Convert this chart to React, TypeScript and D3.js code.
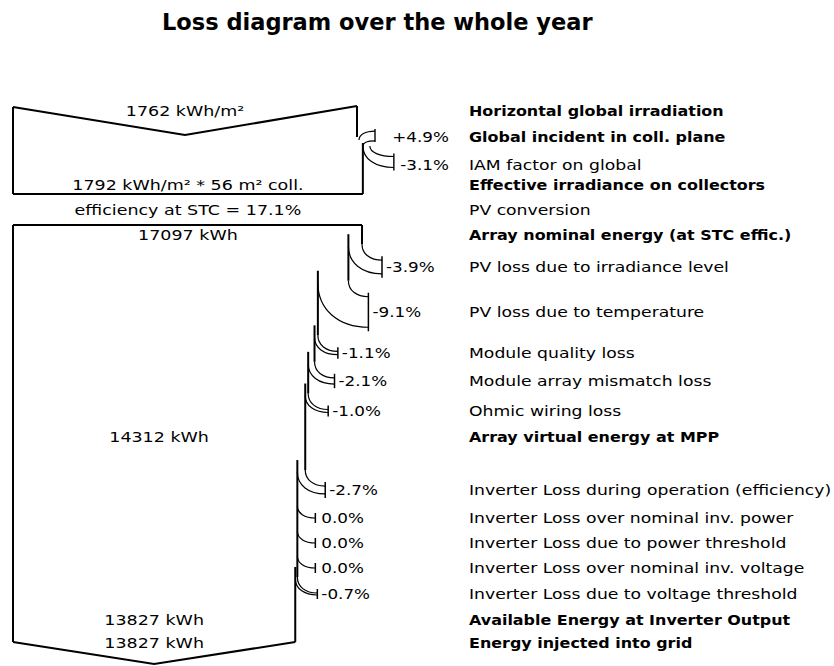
import React from "react";
import * as d3 from "d3";

// ---------- data ----------
const chartTitle = "Loss diagram over the whole year";

const ghi = 1762; // kWh/m²
const gainPct = 4.9; // global incident in coll. plane
const iamPct = -3.1; // IAM factor on global
const effIrr = 1792; // kWh/m²
const collArea = 56; // m²
const stcEff = 17.1; // %
const nominalEnergy = 17097; // kWh
const virtualEnergy = 14312; // kWh
const outputEnergy = 13827; // kWh
const gridEnergy = 13827; // kWh

const irrLabels = [
  "Horizontal global irradiation",
  "Global incident in coll. plane",
  "IAM factor on global",
  "Effective irradiance on collectors",
  "PV conversion",
  "Array nominal energy (at STC effic.)",
];
const irrBold = [true, true, false, true, false, true];

const lossLabels = [
  "PV loss due to irradiance level",
  "PV loss due to temperature",
  "Module quality loss",
  "Module array mismatch loss",
  "Ohmic wiring loss",
  "Inverter Loss during operation (efficiency)",
  "Inverter Loss over nominal inv. power",
  "Inverter Loss due to power threshold",
  "Inverter Loss over nominal inv. voltage",
  "Inverter Loss due to voltage threshold",
];
const lossPct = [-3.9, -9.1, -1.1, -2.1, -1.0, -2.7, 0.0, 0.0, 0.0, -0.7];

const resultLabels = [
  "Array virtual energy at MPP",
  "Available Energy at Inverter Output",
  "Energy injected into grid",
];

// ---------- layout ----------
const irrRowY = [111, 137, 165, 185, 210, 235];
const lossRowY = [267, 312, 353, 381, 411, 490, 518, 543, 568, 594];
const resultRowY = [437, 620, 643];
const labelX = 469;
const LEFT = 13;
const FONT = "'DejaVu Sans', Verdana, sans-serif";
const FS = 14;

const fmtPct = (p: number) => (p > 0 ? "+" : p < 0 ? "-" : "") + Math.abs(p).toFixed(1) + "%";

function curve(x1: number, y1: number, x2: number, y2: number) {
  const p = d3.path();
  p.moveTo(x1, y1);
  p.bezierCurveTo(x1, y1 + 0.6 * (y2 - y1), x1 + 0.4 * (x2 - x1), y2, x2, y2);
  return p.toString();
}

function Txt(props: {
  x: number; y: number; sx: number; children: React.ReactNode;
  anchor?: "start" | "middle" | "end"; bold?: boolean; size?: number;
}) {
  const { x, y, sx, children, anchor = "start", bold = false, size = FS } = props;
  return (
    <text
      transform={`translate(${x},${y}) scale(${sx},1)`}
      textAnchor={anchor}
      dominantBaseline="central"
      fontSize={size}
      fontWeight={bold ? "bold" : "normal"}
      fontFamily={FONT}
      fill="#000"
    >
      {children}
    </text>
  );
}

export default function App() {
  const irrX = d3.scaleLinear().domain([0, ghi]).range([LEFT, 357]);
  const enX = d3.scaleLinear().domain([0, nominalEnergy]).range([LEFT, 362]);

  const stroke = "#000";
  const elems: React.ReactNode[] = [];

  // ----- irradiance box -----
  const xG = irrX(ghi);
  const xGain = irrX(ghi * (1 + gainPct / 100));
  const xEff = irrX(effIrr);
  const topL = 107, topV = 135, box1Bottom = 194;
  const midTop = (LEFT + xG) / 2;
  elems.push(
    <path key="b1top" d={`M${LEFT},${topL} L${midTop},${topV} L${xG},${topL - 1}`} fill="none" stroke={stroke} strokeWidth={2} />,
    <line key="b1left" x1={LEFT} y1={topL} x2={LEFT} y2={box1Bottom} stroke={stroke} strokeWidth={2} />,
    <line key="b1bot" x1={LEFT} y1={box1Bottom} x2={xEff} y2={box1Bottom} stroke={stroke} strokeWidth={2} />,
    <line key="b1r1" x1={xG} y1={topL - 1} x2={xG} y2={137} stroke={stroke} strokeWidth={2} />,
    <line key="b1r2" x1={xEff} y1={143} x2={xEff} y2={box1Bottom} stroke={stroke} strokeWidth={2} />
  );
  {
    // gain arrow (coming in)
    const yl = irrRowY[1] - 3;
    const hh = ((xGain - xG) / 2) * 0.35;
    const xt = xG + 18;
    elems.push(
      <path key="gA" d={curve(xG + 2, 140, xt, yl - hh)} fill="none" stroke={stroke} strokeWidth={1.2} />,
      <path key="gB" d={curve(xG + 6, 146, xt, yl + hh + 4)} fill="none" stroke={stroke} strokeWidth={1.2} />,
      <line key="gT" x1={xt} y1={yl - hh - 2} x2={xt} y2={yl + hh + 5} stroke={stroke} strokeWidth={1.4} />
    );
    // IAM loss arrow (going out)
    const yl2 = irrRowY[2] - 3;
    const hh2 = (xGain - xEff) / 2;
    const xt2 = xGain + 20;
    elems.push(
      <path key="iA" d={curve(xGain - 4, 146, xt2, yl2 - hh2)} fill="none" stroke={stroke} strokeWidth={1.2} />,
      <path key="iB" d={curve(xEff, 146, xt2, yl2 + hh2)} fill="none" stroke={stroke} strokeWidth={1.2} />,
      <line key="iT" x1={xt2} y1={yl2 - hh2 - 3} x2={xt2} y2={yl2 + hh2 + 3} stroke={stroke} strokeWidth={1.4} />
    );
  }

  // ----- energy box -----
  const box2Top = 225, box2Bottom = 642;
  const x0 = enX(nominalEnergy);
  elems.push(
    <line key="b2top" x1={LEFT} y1={box2Top} x2={x0} y2={box2Top} stroke={stroke} strokeWidth={2} />,
    <line key="b2left" x1={LEFT} y1={box2Top} x2={LEFT} y2={box2Bottom} stroke={stroke} strokeWidth={2} />
  );

  let e = nominalEnergy;
  let segStart = box2Top;
  const pctTexts: React.ReactNode[] = [];
  lossPct.forEach((pct, i) => {
    const eNew = e * (1 + pct / 100);
    const xo = enX(e);
    const xn = enX(eNew);
    const yl = lossRowY[i];
    const hh = Math.max((xo - xn) / 2, 0.6);
    const y0 = yl - 16 - hh;
    const xt = xo + 20;
    if (pct !== 0) {
      elems.push(
        <line key={`e${i}`} x1={xo} y1={segStart} x2={xo} y2={y0} stroke={stroke} strokeWidth={2} />,
        <path key={`la${i}`} d={curve(xo, y0, xt, yl - hh)} fill="none" stroke={stroke} strokeWidth={1.2} />,
        <path key={`lb${i}`} d={curve(xn, y0 + 2, xt, yl + hh)} fill="none" stroke={stroke} strokeWidth={1.2} />,
        <line key={`lt${i}`} x1={xt} y1={yl - hh - 4} x2={xt} y2={yl + hh + 4} stroke={stroke} strokeWidth={1.5} />
      );
      segStart = y0 - 10;
    } else {
      elems.push(
        <path key={`la${i}`} d={curve(xo, yl - 12, xt - 2, yl)} fill="none" stroke={stroke} strokeWidth={1.2} />,
        <line key={`lt${i}`} x1={xt - 2} y1={yl - 5} x2={xt - 2} y2={yl + 5} stroke={stroke} strokeWidth={1.5} />
      );
    }
    pctTexts.push(
      <Txt key={`p${i}`} x={xt + 4} y={yl} sx={1.2}>{fmtPct(pct)}</Txt>
    );
    e = eNew;
  });
  const xEnd = enX(outputEnergy);
  const midBot = (LEFT + xEnd) / 2;
  elems.push(
    <line key="eLast" x1={xEnd} y1={segStart} x2={xEnd} y2={box2Bottom} stroke={stroke} strokeWidth={2} />,
    <path key="b2bot" d={`M${LEFT},${box2Bottom} L${midBot},${box2Bottom + 22} L${xEnd},${box2Bottom}`} fill="none" stroke={stroke} strokeWidth={2} />
  );

  const cx1 = (LEFT + xEff) / 2;
  const cxV = (LEFT + enX(virtualEnergy)) / 2;
  const cxO = (LEFT + xEnd) / 2;
  const bsx = 1.25;

  return (
    <svg width={834} height={666} style={{ position: "absolute", left: 0, top: 0, background: "#fff" }}>
      <rect width={834} height={666} fill="#fff" />
      <text x={162} y={22} dominantBaseline="central" fontSize={22.5} fontWeight="bold" fontFamily={FONT}>{chartTitle}</text>
      {elems}
      {/* box texts */}
      <Txt x={midTop} y={irrRowY[0]} sx={bsx} anchor="middle">{`${ghi} kWh/m²`}</Txt>
      <Txt x={cx1} y={irrRowY[3]} sx={bsx} anchor="middle">{`${effIrr} kWh/m² * ${collArea} m² coll.`}</Txt>
      <Txt x={cx1} y={irrRowY[4]} sx={bsx} anchor="middle">{`efficiency at STC = ${stcEff.toFixed(1)}%`}</Txt>
      <Txt x={cx1} y={irrRowY[5]} sx={bsx} anchor="middle">{`${nominalEnergy} kWh`}</Txt>
      <Txt x={cxV} y={resultRowY[0]} sx={bsx} anchor="middle">{`${virtualEnergy} kWh`}</Txt>
      <Txt x={cxO} y={resultRowY[1]} sx={bsx} anchor="middle">{`${outputEnergy} kWh`}</Txt>
      <Txt x={cxO} y={resultRowY[2]} sx={bsx} anchor="middle">{`${gridEnergy} kWh`}</Txt>
      {/* top percentages */}
      <Txt x={449} y={irrRowY[1]} sx={1.2} anchor="end">{fmtPct(gainPct)}</Txt>
      <Txt x={449} y={irrRowY[2]} sx={1.2} anchor="end">{fmtPct(iamPct)}</Txt>
      {pctTexts}
      {/* labels */}
      {irrLabels.map((l, i) => (
        <Txt key={`il${i}`} x={labelX} y={irrRowY[i]} sx={irrBold[i] ? 1.14 : 1.23} bold={irrBold[i]}>{l}</Txt>
      ))}
      {lossLabels.map((l, i) => (
        <Txt key={`ll${i}`} x={labelX} y={lossRowY[i]} sx={1.23}>{l}</Txt>
      ))}
      {resultLabels.map((l, i) => (
        <Txt key={`rl${i}`} x={labelX} y={resultRowY[i]} sx={1.14} bold>{l}</Txt>
      ))}
    </svg>
  );
}
